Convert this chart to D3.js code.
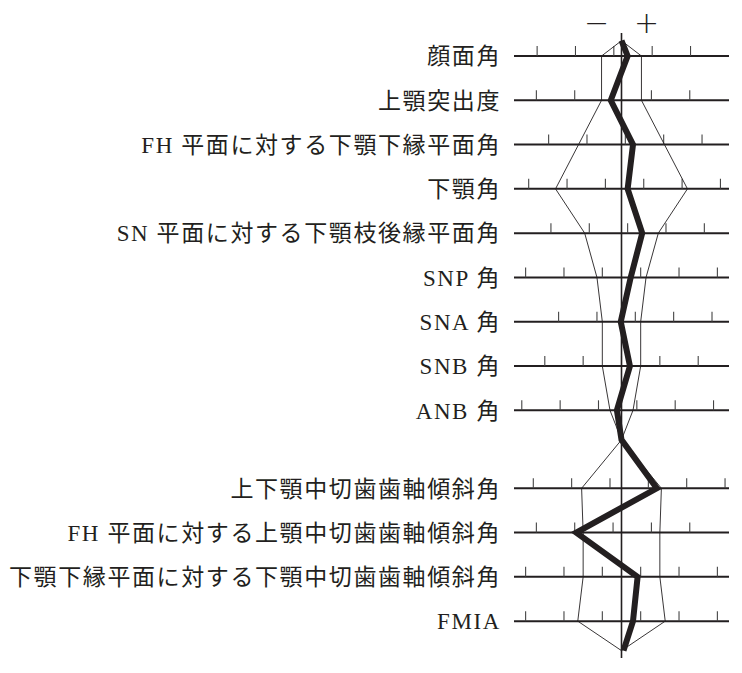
<!DOCTYPE html>
<html>
<head>
<meta charset="utf-8">
<script src="https://cdn.jsdelivr.net/npm/d3@7"></script>
<style>
  html, body { margin: 0; padding: 0; background: #fff; }
  svg { display: block; }
</style>
</head>
<body>
<div id="chart"></div>
<script>
// Measures (top to bottom)
const labels = [
    '顔面角',
    '上顎突出度',
    'FH 平面に対する下顎下縁平面角',
    '下顎角',
    'SN 平面に対する下顎枝後縁平面角',
    'SNP 角',
    'SNA 角',
    'SNB 角',
    'ANB 角',
    '上下顎中切歯歯軸傾斜角',
    'FH 平面に対する上顎中切歯歯軸傾斜角',
    '下顎下縁平面に対する下顎中切歯歯軸傾斜角',
    'FMIA'
]
const groupOf = [0, 0, 0, 0, 0, 0, 0, 0, 0, 1, 1, 1, 1]

// Norm (mean, SD) and patient values, degrees
const normMean = [86.0, 6.1, 29.5, 122.1, 89.2, 77.5, 83.2, 80.0, 3.0, 126.5, 111.1, 92.5, 57.5]
const normSD = [2.6, 2.6, 5.6, 8.6, 4.8, 3.2, 2.5, 2.5, 1.5, 5.2, 5.0, 5.0, 5.7]
const patient = [86.8, 4.7, 31.0, 122.9, 91.9, 78.7, 83.1, 81.1, 2.4, 131.1, 105.2, 94.6, 59.0]

// Tick marks every 5 degrees
const tickStart = [75, -5, 20, 110, 80, 65, 75, 70, -10, 115, 100, 80, 45]
const tickEnd = [95, 15, 40, 135, 100, 90, 95, 90, 15, 140, 120, 105, 70]
const tickStep = 5

const signLabels = ['−', '+']

// Layout
const width = 742
const height = 673
const cx = 621.5
const pxPerDeg = 7.67
const axisLeft = 514
const axisRight = 729
const groupGap = 33.7
const apexTop = 15.3
const apexBottom = 29.5
const tickLen = 10
const ink = '#231f20'
const fontFamily = '"Liberation Serif", "Noto Sans CJK JP", serif'

const svg = d3.select('#chart')
    .append('svg')
    .attr('width', width)
    .attr('height', height)

svg.append('rect')
    .attr('width', width)
    .attr('height', height)
    .attr('fill', '#fff')

// Vertical position of each row
const rowScale = d3.scaleLinear().domain([0, 8]).range([56, 410.3])
const yRow = i => rowScale(i) + groupOf[i] * groupGap

// Horizontal scale per row: mean sits on the centre line
const xScale = i => d3.scaleLinear()
    .domain([normMean[i] - 1, normMean[i] + 1])
    .range([cx - pxPerDeg, cx + pxPerDeg])

const rows = labels.map((d, i) => ({ label: d, i: i, y: yRow(i), x: xScale(i) }))

// Row axes
const rowG = svg.selectAll('.row')
    .data(rows)
    .join('g')
    .attr('class', 'row')

rowG.append('line')
    .attr('x1', axisLeft)
    .attr('x2', axisRight)
    .attr('y1', d => d.y)
    .attr('y2', d => d.y)
    .attr('stroke', ink)
    .attr('stroke-width', 2)

rowG.selectAll('.tick')
    .data(d => d3.range(tickStart[d.i], tickEnd[d.i] + 0.01, tickStep).map(v => ({ x: d.x(v), y: d.y })))
    .join('line')
    .attr('class', 'tick')
    .attr('x1', t => t.x)
    .attr('x2', t => t.x)
    .attr('y1', t => t.y)
    .attr('y2', t => t.y - tickLen)
    .attr('stroke', '#444')
    .attr('stroke-width', 1.1)

rowG.append('text')
    .attr('x', axisLeft - 13)
    .attr('y', d => d.y)
    .attr('dy', '0.36em')
    .attr('text-anchor', 'end')
    .attr('font-family', fontFamily)
    .attr('font-size', 23)
    .attr('letter-spacing', 1.6)
    .attr('fill', ink)
    .text(d => d.label)

// Centre line
svg.append('line')
    .attr('x1', cx)
    .attr('x2', cx)
    .attr('y1', 33)
    .attr('y2', 658)
    .attr('stroke', ink)
    .attr('stroke-width', 1.6)

// Norm band (mean ± SD) for each group, closed at the centre apexes
const line = d3.line().x(d => d[0]).y(d => d[1])
const groups = [0, 1]
groups.forEach(g => {
    const idx = rows.filter(r => groupOf[r.i] === g)
    const top = [cx, idx[0].y - (g === 0 ? apexTop : idx[0].y - (rows[8].y + apexBottom))]
    const bottom = [cx, idx[idx.length - 1].y + apexBottom]
    const leftPts = [top].concat(idx.map(r => [r.x(normMean[r.i] - normSD[r.i]), r.y]), [bottom])
    const rightPts = [top].concat(idx.map(r => [r.x(normMean[r.i] + normSD[r.i]), r.y]), [bottom])
    ;[leftPts, rightPts].forEach(pts => {
        svg.append('path')
            .attr('d', line(pts))
            .attr('fill', 'none')
            .attr('stroke', ink)
            .attr('stroke-width', 0.9)
    })
})

// Patient profile
const midApex = rows[8].y + apexBottom
const patientPts = [[cx, rows[0].y - apexTop]]
rows.forEach(r => {
    patientPts.push([r.x(patient[r.i]), r.y])
    if (r.i === 8) patientPts.push([cx, midApex])
})
patientPts.push([cx + 2, rows[12].y + apexBottom])

svg.append('path')
    .attr('d', line(patientPts))
    .attr('fill', 'none')
    .attr('stroke', ink)
    .attr('stroke-width', 6)
    .attr('stroke-linejoin', 'miter')
    .attr('stroke-miterlimit', 10)

// − / + markers
svg.selectAll('.sign')
    .data(signLabels)
    .join('text')
    .attr('class', 'sign')
    .attr('x', (d, i) => cx + (i === 0 ? -25 : 25))
    .attr('y', 22)
    .attr('dy', '0.35em')
    .attr('text-anchor', 'middle')
    .attr('font-family', '"DejaVu Sans", sans-serif')
    .attr('font-weight', 200)
    .attr('font-size', 30)
    .attr('fill', ink)
    .text(d => d)
</script>
</body>
</html>
